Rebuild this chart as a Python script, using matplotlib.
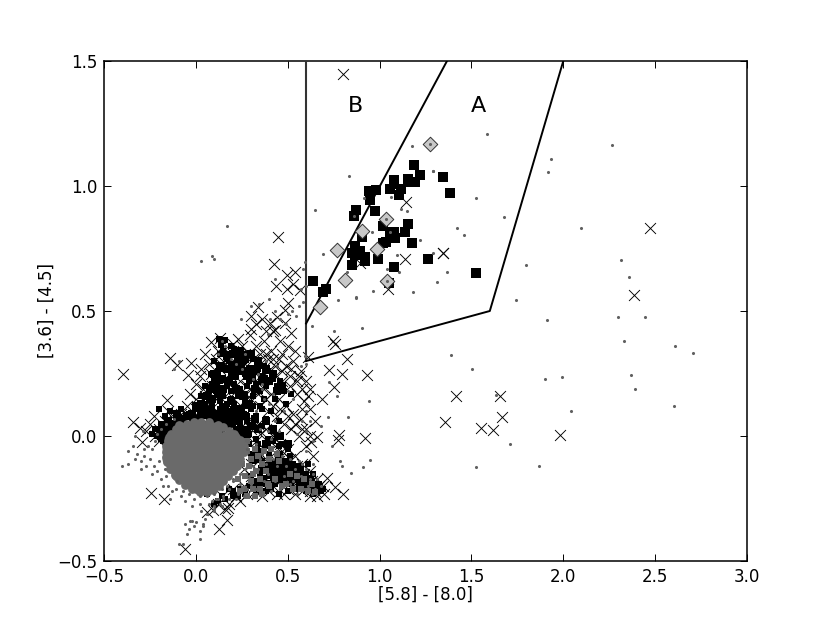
import matplotlib
matplotlib.use('Agg')
import matplotlib.pyplot as plt

# Selection boxes
box_a_x = [0.6, 0.6, 1.6, 2.0]
box_a_y = [1.5, 0.3, 0.5, 1.5]
box_b_x = [0.6, 1.367]
box_b_y = [0.45, 1.5]

# Class 1 sources
square_x = [1.186,1.220,1.193,1.153,1.153,1.079,1.117,1.106,1.057,1.079,1.346,1.386,0.981,0.945,0.950,0.974,0.874,0.859,
            1.155,1.141,1.079,1.057,1.082,1.017,1.035,1.017,1.179,0.905,0.866,0.894,0.848,0.866,0.923,0.921,0.848,0.994,
            1.077,1.266,1.523,1.053,0.636,0.710,0.692]
square_y = [1.084,1.043,1.017,1.027,1.015,1.024,0.987,0.964,0.987,1.008,1.037,0.972,0.984,0.980,0.944,0.899,0.904,0.881,
            0.847,0.816,0.816,0.817,0.793,0.841,0.777,0.771,0.772,0.795,0.760,0.740,0.731,0.724,0.717,0.701,0.684,0.707,
            0.677,0.707,0.652,0.611,0.620,0.588,0.577]

# Class 2 sources
diamond_x = [1.273,1.035,0.905,0.986,0.767,0.812,1.039,0.678]
diamond_y = [1.167,0.867,0.821,0.748,0.744,0.623,0.620,0.517]

# Crosses
cross_x = [0.803,1.142,1.346,1.139,0.894,1.044,2.474,2.385,1.416,1.657,1.665,1.358,1.554,1.619,1.984,1.343,
           0.447,0.425,0.498,0.540,0.436,0.498,0.531,0.567,0.500,0.336,0.485,0.298,0.440,0.404,0.485,0.431,0.516,
           0.131,0.082,0.295,0.749,0.759,0.821,0.612,0.727,0.796,0.930,0.752,0.689,0.778,0.772,0.923,0.658,0.625,
           -0.399,-0.141,-0.101,-0.028,-0.041,-0.155,-0.341,-0.304,-0.295,-0.246,-0.174,0.059,0.095,0.177,0.168,0.128,-0.057,
           0.803,0.759,0.712,
           0.05,0.11,0.16,0.20,0.25,0.29,0.33,0.37,0.41,0.45,0.49,0.53,0.57,0.60,
           0.03,0.08,0.13,0.18,0.22,0.27,0.31,0.35,0.39,0.43,0.47,0.51,0.55,0.59,0.62,
           0.00,-0.03,0.04,0.09,0.14,0.19,0.24,0.28,0.33,0.37,0.41,0.45,0.49,0.53,0.57,0.60,
           0.06,0.11,0.16,0.21,0.26,0.30,0.35,0.39,0.44,0.48,0.52,0.56,0.60,0.64,
           -0.08,-0.12,-0.17,-0.05,-0.20,-0.23,0.13,0.18,0.24,0.29,0.34,0.38,0.42,0.46,0.50,0.54,0.58,0.62,0.66,
           0.28,0.33,0.37,0.41,0.45,0.49,0.53,0.57,0.61,0.65,0.69,
           0.30,0.34,0.38,0.42,0.46,0.50,0.54,0.58,0.62,0.26,0.22,0.18,0.14,
           0.38,0.42,0.23,0.35,
           0.02,0.07,0.12,0.15,0.20,0.23,0.27,0.31,0.35,0.39,0.43,0.47,0.51,0.55,0.58,0.61,
           0.00,0.05,0.08,0.13,0.17,0.22,0.26,0.30,0.34,0.38,0.42,0.46,0.50,0.54,0.58,0.62,
           -0.01,0.03,0.07,0.11,0.15,0.20,0.25,0.30,0.35,0.39,0.43,0.47,0.51,0.55,0.59,0.63,0.67,
           -0.15,-0.18,-0.10,-0.06,-0.22,-0.20,-0.25,-0.27,
           0.26,0.30,0.34,0.38,0.42,0.46,0.50,0.54,0.58,0.62,0.66,0.70,0.48,0.44,0.40,0.36,0.32,0.28,0.24,0.20,0.16,0.12,
           0.33,0.36,0.30,0.38,0.42,0.46,0.50,0.54,0.47,0.52,0.56,0.62,0.65,0.58]
cross_y = [1.447,0.937,0.732,0.707,0.691,0.587,0.831,0.563,0.162,0.162,0.075,0.055,0.034,0.023,0.003,0.731,
           0.796,0.689,0.644,0.657,0.601,0.588,0.608,0.584,0.531,0.515,0.504,0.480,0.477,0.451,0.451,0.424,0.413,
           0.391,0.377,0.404,0.381,0.368,0.307,0.315,0.264,0.248,0.244,0.195,0.148,0.004,-0.016,-0.008,-0.002,-0.022,
           0.249,0.312,0.284,0.291,0.244,0.144,0.055,0.031,-0.025,-0.226,-0.250,-0.302,-0.296,-0.289,-0.336,-0.373,-0.453,
           -0.232,-0.205,-0.169,
           0.33,0.31,0.35,0.34,0.36,0.33,0.36,0.38,0.34,0.31,0.28,0.30,0.26,0.22,
           0.27,0.25,0.27,0.29,0.27,0.29,0.26,0.29,0.26,0.24,0.22,0.20,0.17,0.14,0.19,
           0.21,0.17,0.19,0.20,0.22,0.21,0.22,0.20,0.21,0.19,0.17,0.15,0.12,0.09,0.07,0.03,
           0.13,0.15,0.16,0.15,0.14,0.15,0.12,0.10,0.08,0.05,0.03,0.00,-0.04,-0.08,
           0.09,0.07,0.06,0.12,0.03,0.08,0.09,0.10,0.08,0.07,0.05,0.03,0.00,-0.03,-0.05,-0.08,-0.11,-0.14,-0.17,
           0.00,-0.02,-0.05,-0.08,-0.10,-0.13,-0.15,-0.18,-0.20,-0.22,-0.20,
           -0.16,-0.19,-0.17,-0.20,-0.18,-0.21,-0.23,-0.22,-0.24,-0.20,-0.24,-0.27,-0.24,
           0.33,0.31,0.39,0.24,
           0.24,0.29,0.34,0.30,0.37,0.31,0.33,0.31,0.33,0.31,0.28,0.26,0.24,0.22,0.19,0.16,
           0.15,0.16,0.11,0.18,0.13,0.18,0.17,0.19,0.17,0.15,0.12,0.11,0.08,0.05,0.03,0.00,
           0.08,0.09,0.07,0.05,0.05,0.04,0.04,0.03,0.01,-0.01,-0.04,-0.06,-0.09,-0.12,-0.15,-0.18,-0.20,
           0.10,0.03,0.04,0.06,0.00,-0.02,0.05,0.02,
           -0.13,-0.11,-0.10,-0.09,-0.12,-0.14,-0.17,-0.19,-0.20,-0.22,-0.24,-0.23,-0.23,-0.23,-0.22,-0.24,-0.22,-0.23,-0.26,-0.21,-0.29,-0.27,
           0.45,0.47,0.43,0.42,0.42,0.38,0.36,0.34,0.33,0.27,0.24,0.11,0.06,0.11]

# Dense black field stars under the grey ones
black_x = [0.125,0.145,0.16,0.135,
           0.17,0.21,0.24,0.19,0.27,
           0.13,0.17,0.22,0.26,0.31,0.15,0.19,0.28,0.34,
           0.10,0.14,0.18,0.21,0.25,0.29,0.34,0.39,0.12,0.23,0.31,0.37,
           0.08,0.12,0.15,0.19,0.22,0.27,0.31,0.36,0.42,0.46,0.10,0.17,0.24,0.29,
           0.05,0.09,0.13,0.17,0.21,0.24,0.28,0.33,0.38,0.44,0.48,0.52,0.07,0.15,0.19,0.26,0.35,
           0.03,0.07,0.11,0.15,0.19,0.23,0.27,0.31,0.37,0.43,0.49,0.05,0.09,0.13,0.17,0.21,0.25,
           0.02,0.06,0.09,0.13,0.17,0.21,0.25,0.30,0.35,0.41,0.04,0.11,0.15,0.19,0.23,0.28,
           0.00,0.04,0.08,0.12,0.16,0.20,0.24,0.28,0.33,0.38,0.45,0.02,0.10,0.14,0.18,0.22,
           -0.02,0.02,0.06,0.10,0.14,0.18,0.22,0.26,0.31,0.36,0.41,0.08,0.12,0.16,0.20,0.24,0.29,
           -0.06,-0.02,0.03,0.07,0.11,0.16,0.20,0.24,0.28,0.33,0.39,0.44,0.05,0.13,0.18,0.22,0.26,
           -0.20,-0.17,-0.14,-0.11,-0.08,-0.04,0.00,0.05,0.09,0.14,0.20,0.27,0.31,0.36,0.42,0.47,
           -0.19,-0.16,-0.13,-0.10,-0.07,-0.03,0.02,0.19,0.24,0.29,0.34,0.39,0.45,0.50,
           -0.21,-0.18,-0.15,-0.12,-0.16,-0.19,-0.13,0.25,0.30,0.35,0.40,0.46,0.51,
           -0.22,-0.19,-0.24,-0.17,0.31,0.36,0.41,0.47,0.53,0.33,0.38,0.44,
           0.30,0.35,0.40,0.45,0.50,0.55,0.33,0.43,0.48,0.53,0.58,
           0.40,0.45,0.49,0.54,0.42,0.47,0.52,0.57,0.60,
           0.43,0.48,0.52,0.57,0.61,0.50,0.55,0.59,0.63,
           0.18,0.24,0.30,0.35,0.41,0.47,0.52,0.56,0.60,0.64,
           0.14,0.20,0.27,0.33,0.38,0.45,0.50,0.55,0.58,0.62,0.66,
           0.10,0.16,0.23,0.29,0.36,0.42,0.53,0.57,0.61,0.64,0.67,0.69,
           0.60,0.64,0.62,0.66,0.68,0.06,0.12,0.20,0.27]
black_y = [0.39,0.38,0.385,0.365,
           0.33,0.35,0.32,0.36,0.31,
           0.33,0.31,0.33,0.30,0.31,0.34,0.29,0.33,0.29,
           0.30,0.28,0.30,0.27,0.29,0.27,0.27,0.26,0.26,0.28,0.25,0.28,
           0.25,0.25,0.27,0.25,0.24,0.25,0.23,0.24,0.23,0.22,0.22,0.22,0.26,0.22,
           0.20,0.21,0.22,0.20,0.21,0.19,0.20,0.21,0.20,0.20,0.18,0.17,0.18,0.18,0.18,0.17,0.18,
           0.16,0.15,0.18,0.16,0.15,0.16,0.14,0.16,0.15,0.15,0.13,0.13,0.12,0.14,0.13,0.13,0.11,
           0.11,0.11,0.09,0.11,0.10,0.10,0.09,0.11,0.12,0.10,0.08,0.07,0.08,0.07,0.07,0.08,
           0.07,0.05,0.07,0.08,0.06,0.08,0.05,0.06,0.08,0.07,0.06,0.04,0.05,0.03,0.04,0.03,
           0.03,0.01,0.02,0.03,0.02,0.01,0.01,0.03,0.04,0.04,0.02,0.00,-0.01,0.00,-0.01,0.00,0.01,
           0.05,0.07,0.08,0.06,0.07,0.05,0.05,0.06,0.06,-0.01,-0.01,0.00,0.08,0.09,0.09,0.08,0.09,
           0.11,0.08,0.10,0.08,0.11,0.09,0.11,0.10,0.11,0.12,0.11,0.12,0.12,0.11,-0.02,-0.03,
           0.05,0.02,0.05,0.03,0.06,0.08,0.09,-0.03,-0.02,-0.03,-0.03,-0.04,-0.04,-0.05,
           0.00,-0.02,0.01,0.00,-0.05,0.03,-0.04,-0.06,-0.07,-0.06,-0.07,-0.07,-0.08,
           0.03,-0.01,0.01,0.05,-0.10,-0.10,-0.11,-0.10,-0.11,-0.14,-0.13,-0.14,
           -0.16,-0.15,-0.16,-0.14,-0.14,-0.14,-0.18,-0.18,-0.17,-0.17,-0.16,
           -0.11,-0.12,-0.10,-0.12,-0.14,-0.15,-0.14,-0.14,-0.15,
           -0.19,-0.19,-0.18,-0.17,-0.17,-0.16,-0.15,-0.18,-0.18,
           -0.21,-0.21,-0.20,-0.20,-0.21,-0.20,-0.19,-0.19,-0.19,-0.19,
           -0.24,-0.22,-0.23,-0.22,-0.22,-0.23,-0.22,-0.21,-0.21,-0.20,-0.20,
           -0.27,-0.25,-0.24,-0.20,-0.19,-0.17,-0.13,-0.12,-0.11,-0.15,-0.19,-0.21,
           -0.22,-0.23,-0.21,-0.22,-0.22,-0.23,-0.26,-0.24,-0.22]

# Where the black stars pile up and overlap
pile_x = [0.00,0.03,0.06,0.09,0.12,0.15,0.18,0.21,0.14,0.17,0.11,0.08,0.20,0.23,0.25,0.28,0.30,0.22,0.26,0.19,0.16,0.12,0.23,0.29,
          0.32,0.36,0.40,0.44,0.47,0.05,0.02,0.09,0.13,0.18,0.22,0.27,0.32,-0.02,-0.05,-0.09,-0.12,-0.15,-0.17,-0.14,-0.19,-0.10,
          0.24,0.28,0.30,0.34,0.38,0.42,0.46,0.50,
          0.42,0.44,0.46,0.48,0.45,0.50,0.52,0.55,0.58,0.60,0.63,0.65,0.67,0.62,0.56,0.47,0.41,0.36,0.33,0.38,
          0.30,0.34,0.38,0.42,0.27,0.24,0.20,0.17,0.33,0.37,0.13,0.10,0.40,0.44,0.34,0.39,0.31,0.36]
pile_y = [0.12,0.13,0.16,0.15,0.17,0.19,0.22,0.24,0.23,0.27,0.20,0.19,0.28,0.30,0.26,0.24,0.27,0.19,0.16,0.14,0.11,0.09,0.11,0.13,
          0.19,0.22,0.22,0.18,0.20,0.10,0.07,0.07,0.06,0.07,0.06,0.08,0.07,0.09,0.08,0.07,0.05,0.06,0.04,0.03,0.00,0.09,
          0.02,0.01,0.04,0.03,0.06,0.03,0.00,-0.03,
          -0.11,-0.13,-0.12,-0.14,-0.09,-0.11,-0.16,-0.17,-0.19,-0.20,-0.20,-0.21,-0.215,-0.17,-0.14,-0.17,-0.15,-0.13,-0.06,-0.03,
          0.33,0.30,0.27,0.25,0.31,0.34,0.33,0.32,0.26,0.23,0.28,0.25,-0.19,-0.16,-0.09,-0.12,-0.19,-0.17]

# Saturated centre of the grey cloud
core_x = [-0.08,-0.02,0.04,0.10,
          -0.13,-0.08,-0.02,0.04,0.10,0.16,0.20,
          -0.14,-0.09,-0.03,0.03,0.09,0.15,0.21,0.24,
          -0.14,-0.09,-0.03,0.03,0.09,0.15,0.21,
          -0.12,-0.07,-0.01,0.05,0.11,0.17,0.20,
          -0.09,-0.03,0.03,0.09,0.14,
          -0.04,0.02,0.07,0.11,
          0.01,0.05]
core_y = [0.025,0.025,0.025,0.025,
          -0.01,-0.01,-0.01,-0.01,-0.01,-0.01,-0.01,
          -0.05,-0.05,-0.05,-0.05,-0.05,-0.05,-0.05,-0.05,
          -0.09,-0.09,-0.09,-0.09,-0.09,-0.09,-0.09,
          -0.12,-0.12,-0.12,-0.12,-0.12,-0.12,-0.11,
          -0.15,-0.15,-0.15,-0.15,-0.145,
          -0.18,-0.18,-0.18,-0.17,
          -0.2,-0.2]

# Rim of the saturated centre
rim_x = [-0.165,-0.16,-0.15,-0.135,-0.11,-0.09,-0.05,-0.01,0.03,0.07,0.12,0.15,0.18,0.21,0.24,0.26,0.26,0.24,0.225,0.20,0.175,
         0.15,0.125,0.095,0.06,0.02,-0.02,-0.06,-0.09,-0.115,-0.14,-0.155,-0.165]
rim_y = [-0.065,-0.04,-0.02,0.01,0.03,0.045,0.05,0.055,0.055,0.055,0.045,0.035,0.02,0.01,-0.015,-0.04,-0.065,-0.09,-0.12,-0.14,-0.16,
         -0.18,-0.20,-0.215,-0.225,-0.225,-0.21,-0.195,-0.175,-0.155,-0.13,-0.105,-0.085]

# Grey part of the arm running to the lower right
arm_x = [0.28,0.30,0.32,0.29,0.31,0.34,0.36,0.33,0.30,0.27,0.35,0.38,0.37,0.40,0.28,0.25,0.23,0.26,0.31,0.35,0.39,0.43,0.47,0.51,
         0.55,0.59,0.63,0.49,0.53,0.57,0.61,0.65,0.44,0.41,0.45,0.40,0.36,0.32,0.28,0.24]
arm_y = [-0.06,-0.09,-0.05,-0.12,-0.15,-0.08,-0.11,-0.14,-0.18,-0.16,-0.17,-0.14,-0.06,-0.09,-0.02,-0.11,-0.17,-0.21,-0.21,-0.21,-0.19,-0.17,-0.20,-0.15,
         -0.16,-0.17,-0.19,-0.19,-0.21,-0.21,-0.22,-0.225,-0.07,-0.05,-0.10,-0.20,-0.23,-0.24,-0.24,-0.22]

# Grey field stars: edge of the cloud, stragglers, sparse stars across the plot
grey_x = [-0.12,-0.16,-0.19,-0.21,-0.22,-0.24,-0.26,-0.28,-0.25,-0.23,-0.27,-0.30,-0.32,-0.21,-0.19,-0.18,-0.20,-0.24,-0.17,-0.15,
          -0.29,-0.33,-0.34,-0.37,-0.40,-0.37,-0.30,-0.28,-0.33,-0.16,-0.13,-0.10,-0.14,-0.11,-0.08,-0.07,-0.04,-0.06,-0.01,
          0.02,0.06,0.10,-0.02,0.02,0.14,0.17,0.20,0.24,0.11,0.07,0.03,-0.02,0.05,0.10,0.15,
          -0.06,-0.03,-0.01,-0.04,-0.05,0.02,0.00,0.04,0.02,0.04,-0.09,-0.07,0.06,0.10,0.13,
          0.28,0.30,0.33,0.36,0.40,0.44,0.27,0.31,0.35,0.38,0.42,0.47,0.51,0.56,0.60,0.64,0.68,
          0.29,0.34,0.39,0.44,0.49,0.54,0.58,0.62,0.66,0.30,0.37,0.43,0.48,0.53,0.57,0.61,0.65,0.28,0.33,0.41,0.46,0.51,0.55,0.59,0.63,
          0.24,0.27,0.20,0.23,0.18,0.15,0.12,0.09,0.26,0.22,0.18,0.14,0.10,0.06,
          0.33,0.35,0.37,0.39,0.41,0.43,0.45,0.36,0.40,0.58,0.60,0.34,0.38,0.44,0.50,0.53,
          0.14,0.16,0.12,0.19,0.25,0.22,0.31,0.36,0.42,0.27,0.48,0.55,
          0.592,0.60,0.575,-0.09,-0.12,
          0.30,0.50,0.245,0.10,0.432,0.56,0.575,0.60,0.63,0.545,0.525,0.46,0.49,0.43,0.405,0.345,
          0.94,0.906,0.874,0.774,0.752,0.727,0.77,0.718,0.83,0.739,0.785,0.797,0.912,0.843,0.95,
          0.62,0.60,0.60,0.64,0.64,0.68,
          1.179,1.289,0.834,0.915,0.647,1.525,1.062,1.115,1.150,0.959,1.220,0.690,0.821,0.596,0.582,1.097,1.108,1.043,0.966,1.184,0.872,0.585,
          1.587,2.264,1.935,1.917,1.289,2.098,1.676,1.421,1.460,1.291,1.797,2.314,2.360,1.365,1.313,1.743,1.910,2.300,2.447,2.331,2.608,2.705,
          1.387,1.505,1.901,1.991,2.367,2.392,1.634,2.042,2.603,1.710,1.527,1.866,
          0.17,0.09,0.03,0.40,0.39,
          1.273,1.039,1.035,0.859,1.057]
grey_y = [0.07,0.05,0.03,0.01,-0.02,-0.05,-0.04,-0.08,-0.09,-0.12,-0.12,-0.10,-0.07,-0.14,-0.17,-0.20,-0.10,-0.15,-0.13,-0.20,
          0.02,0.00,-0.04,-0.06,-0.12,-0.11,-0.13,-0.05,-0.09,-0.16,-0.22,-0.18,-0.25,-0.21,-0.24,-0.22,-0.23,-0.26,-0.25,
          -0.24,-0.24,-0.23,-0.28,-0.27,-0.21,-0.20,-0.18,-0.15,-0.25,-0.27,-0.30,-0.34,-0.33,-0.28,-0.25,
          -0.35,-0.34,-0.36,-0.37,-0.39,-0.38,-0.345,-0.35,-0.41,-0.36,-0.43,-0.43,-0.31,-0.30,-0.27,
          -0.05,-0.09,-0.03,-0.07,-0.05,-0.06,-0.13,-0.12,-0.09,-0.11,-0.09,-0.08,-0.09,-0.10,-0.13,-0.15,-0.20,
          -0.16,-0.13,-0.15,-0.12,-0.12,-0.13,-0.11,-0.17,-0.17,-0.19,-0.18,-0.18,-0.16,-0.18,-0.16,-0.20,-0.21,-0.21,-0.21,-0.22,-0.21,-0.19,-0.23,-0.21,-0.23,
          -0.19,-0.21,-0.17,-0.23,-0.21,-0.24,-0.25,-0.26,-0.24,-0.25,-0.25,-0.28,-0.29,-0.31,
          0.10,0.03,0.15,0.02,-0.01,0.06,0.02,0.21,0.13,0.06,0.02,0.25,0.30,0.28,0.18,0.15,
          0.38,0.36,0.33,0.31,0.27,0.29,0.23,0.19,0.17,0.33,0.10,0.01,
          0.32,0.29,0.28,0.30,0.27,
          0.52,0.49,0.47,0.71,0.63,0.52,0.59,0.60,0.44,0.48,0.50,0.47,0.45,0.50,0.47,0.53,
          0.14,0.433,0.555,0.544,0.42,0.217,0.161,0.077,0.077,-0.04,-0.10,-0.12,-0.125,-0.149,-0.096,
          0.06,0.10,-0.06,-0.02,-0.11,0.04,
          1.160,1.061,1.039,0.951,0.904,0.952,0.957,0.908,0.900,0.815,0.783,0.730,0.657,0.696,0.667,0.725,0.657,0.667,0.579,0.576,0.554,0.536,
          1.209,1.163,1.108,1.057,1.061,0.831,0.875,0.833,0.803,0.732,0.685,0.705,0.637,0.655,0.616,0.545,0.463,0.475,0.477,0.380,0.360,0.331,
          0.325,0.269,0.230,0.236,0.246,0.187,0.164,0.099,0.120,-0.033,-0.125,-0.121,
          0.84,0.72,0.70,0.55,0.41,
          1.167,0.620,0.867,0.881,0.817]

x_ticks = [-0.5, 0.0, 0.5, 1.0, 1.5, 2.0, 2.5, 3.0]
y_ticks = [-0.5, 0.0, 0.5, 1.0, 1.5]

fig = plt.figure(figsize=(8.3, 6.23), dpi=100)
ax = fig.add_axes([104/830, 62/623, 643/830, 500/623])

ax.scatter(black_x, black_y, s=17, c='black', marker='s', linewidths=0, zorder=2)
ax.scatter(pile_x, pile_y, s=30, c='black', marker='s', linewidths=0, zorder=2)
ax.scatter(cross_x, cross_y, s=62, c='black', marker='x', linewidths=0.65, zorder=3)
ax.scatter(arm_x, arm_y, s=14, c='#666666', marker='s', linewidths=0, zorder=4)
ax.scatter(core_x, core_y, s=130, c='#6a6a6a', marker='o', linewidths=0, zorder=4)
ax.scatter(rim_x, rim_y, s=40, c='#6a6a6a', marker='o', linewidths=0, zorder=4)

ax.plot(box_a_x[:2], box_a_y[:2], color='#333333', lw=1.5, zorder=5)
ax.plot(box_a_x[1:], box_a_y[1:], color='black', lw=1.4, zorder=5)
ax.plot(box_b_x, box_b_y, color='black', lw=1.4, zorder=5)

ax.scatter(square_x, square_y, s=46, c='black', marker='s', linewidths=0, zorder=6)
ax.scatter(diamond_x, diamond_y, s=55, c='#c8c8c8', marker='D', edgecolors='#333333', linewidths=0.7, zorder=6)
ax.scatter(grey_x, grey_y, s=5, c='#606060', marker='o', linewidths=0, zorder=7)

ax.text(0.87, 1.32, 'B', fontsize=16, ha='center', va='center')
ax.text(1.536, 1.32, 'A', fontsize=16, ha='center', va='center')

ax.set_xlim(-0.5, 3.0)
ax.set_ylim(-0.5, 1.5)
ax.set_xticks(x_ticks)
ax.set_yticks(y_ticks)
ax.tick_params(direction='in', length=5, width=0.7, top=True, right=True, labelsize=12, pad=5)
ax.set_xlabel('[5.8] - [8.0]', fontsize=12, labelpad=0)
ax.set_ylabel('[3.6] - [4.5]', fontsize=12, labelpad=1)
for s in ax.spines.values():
    s.set_linewidth(1.1)

fig.savefig('out.png', dpi=100)
